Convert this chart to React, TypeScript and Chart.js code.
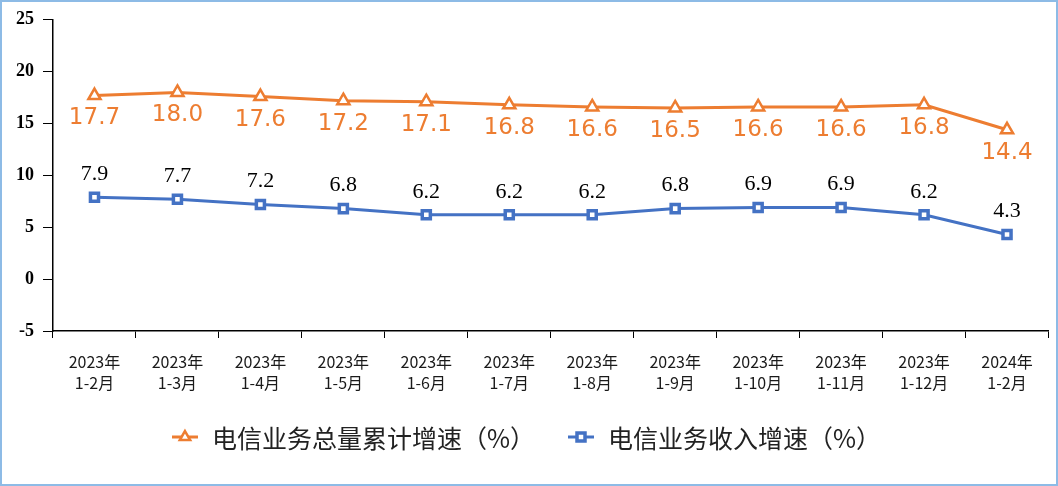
import React, { useEffect, useRef } from "react";
import { Chart, registerables } from "chart.js";

Chart.register(...registerables);

const periods: string[][] = [
  ["2023年", "1-2月"],
  ["2023年", "1-3月"],
  ["2023年", "1-4月"],
  ["2023年", "1-5月"],
  ["2023年", "1-6月"],
  ["2023年", "1-7月"],
  ["2023年", "1-8月"],
  ["2023年", "1-9月"],
  ["2023年", "1-10月"],
  ["2023年", "1-11月"],
  ["2023年", "1-12月"],
  ["2024年", "1-2月"],
];

const totalVolumeGrowth = [17.7, 18.0, 17.6, 17.2, 17.1, 16.8, 16.6, 16.5, 16.6, 16.6, 16.8, 14.4];
const revenueGrowth = [7.9, 7.7, 7.2, 6.8, 6.2, 6.2, 6.2, 6.8, 6.9, 6.9, 6.2, 4.3];

const yMin = -5;
const yMax = 25;
const yStep = 5;

const seriesNames = ["电信业务总量累计增速（%）", "电信业务收入增速（%）"];

const ORANGE = "#ED7D31";
const BLUE = "#4472C4";
const W = 1058;
const H = 486;

const borderPlugin = {
  id: "frameBorder",
  beforeDraw(chart: any) {
    const ctx = chart.ctx;
    ctx.save();
    ctx.fillStyle = "#ffffff";
    ctx.fillRect(0, 0, chart.width, chart.height);
    ctx.restore();
  },
  afterDraw(chart: any) {
    const ctx = chart.ctx;
    ctx.save();
    ctx.strokeStyle = "#8dbbe6";
    ctx.lineWidth = 2;
    ctx.strokeRect(1, 1, chart.width - 2, chart.height - 2);
    ctx.restore();
  },
};

const valueLabelPlugin = {
  id: "valueLabels",
  afterDatasetsDraw(chart: any) {
    const ctx = chart.ctx;
    chart.data.datasets.forEach((ds: any, di: number) => {
      const meta = chart.getDatasetMeta(di);
      meta.data.forEach((pt: any, i: number) => {
        const v = ds.data[i] as number;
        ctx.save();
        ctx.textAlign = "center";
        ctx.textBaseline = "middle";
        let y: number;
        if (di === 0) {
          ctx.font = '23px "DejaVu Sans"';
          ctx.fillStyle = ORANGE;
          y = pt.y + 23;
        } else {
          ctx.font = '22px "Liberation Serif"';
          ctx.fillStyle = "#000000";
          y = pt.y - 23;
        }
        ctx.fillText(v.toFixed(1), pt.x, y);
        ctx.restore();
      });
    });
  },
};

function drawMarker(ctx: CanvasRenderingContext2D, kind: number, cx: number, cy: number) {
  ctx.save();
  const color = kind === 0 ? ORANGE : BLUE;
  ctx.strokeStyle = color;
  ctx.lineWidth = 3;
  ctx.beginPath();
  ctx.moveTo(cx - 13, cy);
  ctx.lineTo(cx + 13, cy);
  ctx.stroke();
  ctx.fillStyle = "#ffffff";
  if (kind === 0) {
    const r = 6;
    ctx.lineWidth = 2.5;
    ctx.beginPath();
    ctx.moveTo(cx, cy - r);
    ctx.lineTo(cx + r * 0.866, cy + r * 0.5);
    ctx.lineTo(cx - r * 0.866, cy + r * 0.5);
    ctx.closePath();
    ctx.fill();
    ctx.stroke();
  } else {
    ctx.lineWidth = 3.5;
    ctx.beginPath();
    ctx.rect(cx - 4, cy - 4, 8, 8);
    ctx.fill();
    ctx.stroke();
  }
  ctx.restore();
}

const legendPlugin = {
  id: "customLegend",
  afterDraw(chart: any) {
    const ctx = chart.ctx as any;
    ctx.save();
    ctx.font = '25px "Noto Sans CJK SC"';
    const markerW = 28;
    const gap = 13;
    const itemGap = 32;
    const widths = seriesNames.map((t) => ctx.measureText(t).width);
    const total = widths.reduce((a, w) => a + markerW + gap + w, 0) + itemGap * (seriesNames.length - 1);
    let x = 526 - total / 2;
    const cy = 437;
    seriesNames.forEach((name, i) => {
      drawMarker(ctx, i, x + markerW / 2, cy);
      x += markerW + gap;
      ctx.fillStyle = "#222222";
      ctx.textAlign = "left";
      ctx.textBaseline = "middle";
      ctx.fillText(name, x, cy + 1);
      x += widths[i] + itemGap;
    });
    ctx.restore();
  },
};

export default function App() {
  const canvasRef = useRef<HTMLCanvasElement | null>(null);

  useEffect(() => {
    document.body.style.margin = "0";
    const canvas = canvasRef.current;
    if (!canvas) return;
    const chart = new Chart(canvas, {
      type: "line",
      data: {
        labels: periods,
        datasets: [
          {
            label: seriesNames[0],
            data: totalVolumeGrowth,
            borderColor: ORANGE,
            backgroundColor: "#ffffff",
            borderWidth: 3,
            pointStyle: "triangle",
            pointRadius: 7,
            pointBorderWidth: 2.5,
            pointBorderColor: ORANGE,
            pointBackgroundColor: "#ffffff",
            tension: 0,
          },
          {
            label: seriesNames[1],
            data: revenueGrowth,
            borderColor: BLUE,
            backgroundColor: "#ffffff",
            borderWidth: 3,
            pointStyle: "rect",
            pointRadius: 5.7,
            pointBorderWidth: 3.5,
            pointBorderColor: BLUE,
            pointBackgroundColor: "#ffffff",
            tension: 0,
          },
        ],
      },
      options: {
        responsive: false,
        animation: false,
        devicePixelRatio: 1,
        layout: { padding: { top: 19, right: 9, left: 0, bottom: 0 } },
        plugins: {
          legend: { display: false },
          tooltip: { enabled: false },
        },
        scales: {
          x: {
            type: "category",
            offset: true,
            grid: {
              offset: true,
              drawOnChartArea: false,
              drawTicks: true,
              tickLength: 7,
              color: "#000000",
              lineWidth: 1,
            },
            border: { display: true, color: "#000000", width: 1.5 },
            ticks: {
              color: "#1a1a1a",
              font: { family: '"Noto Sans CJK SC"', size: 16, lineHeight: 1.35 },
              padding: 13,
              maxRotation: 0,
              autoSkip: false,
            },
            afterFit(scale: any) {
              scale.height = H - 331;
            },
          },
          y: {
            min: yMin,
            max: yMax,
            ticks: {
              stepSize: yStep,
              color: "#000000",
              font: { family: '"Liberation Serif"', size: 18, weight: "bold" },
              padding: 9,
            },
            grid: {
              drawOnChartArea: false,
              drawTicks: true,
              tickLength: 10,
              color: "#000000",
              lineWidth: 1,
            },
            border: { display: true, color: "#000000", width: 1.5 },
            afterFit(scale: any) {
              scale.width = 53;
            },
          },
        },
      },
      plugins: [borderPlugin, valueLabelPlugin, legendPlugin],
    });
    return () => chart.destroy();
  }, []);

  return (
    <div style={{ width: W, height: H }}>
      <canvas ref={canvasRef} width={W} height={H} style={{ display: "block", width: W, height: H }} />
    </div>
  );
}
